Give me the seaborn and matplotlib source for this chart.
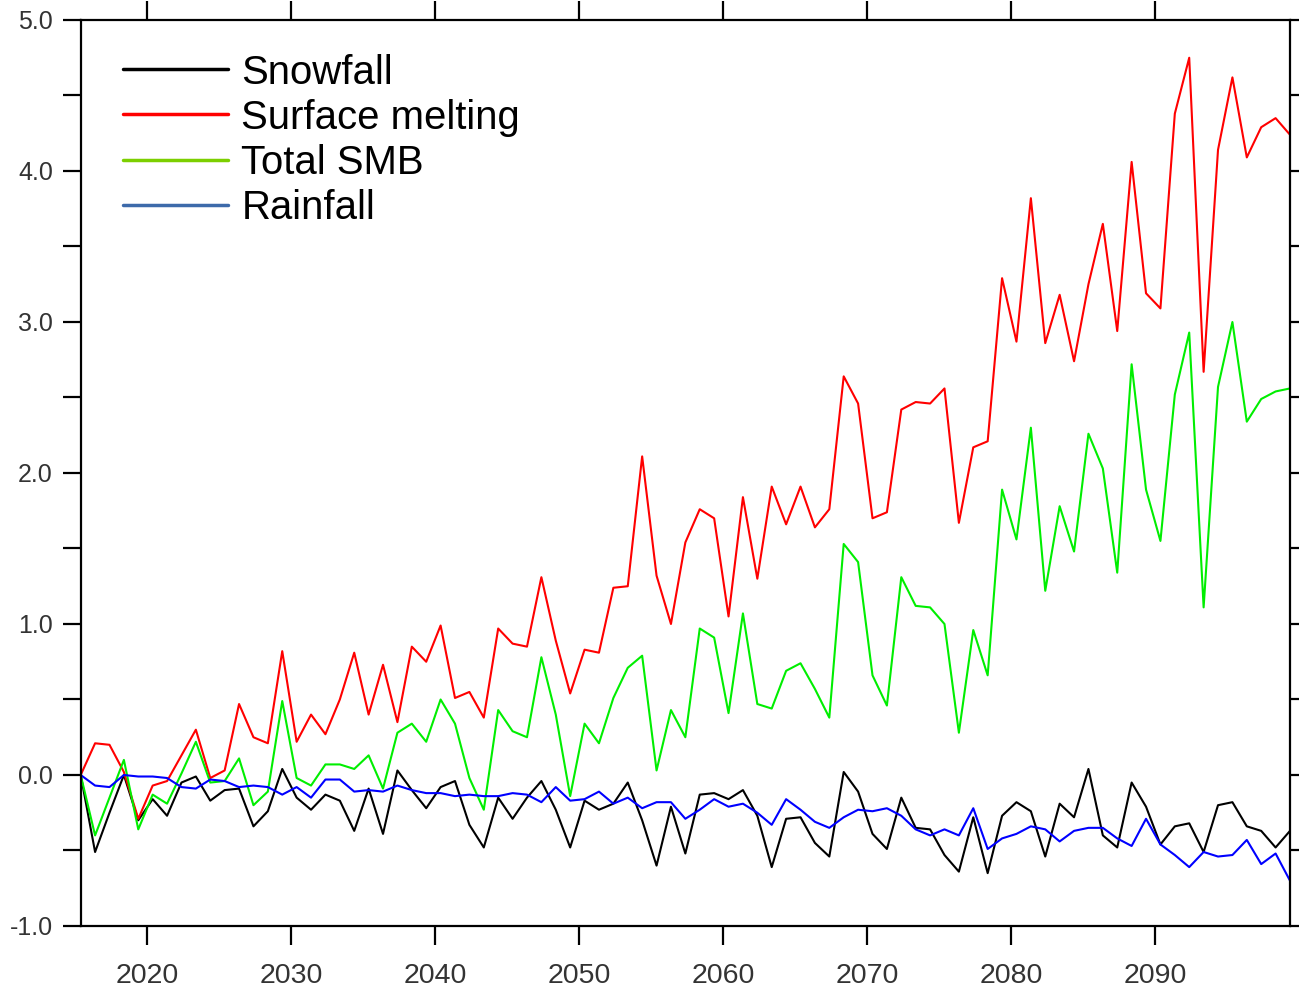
import numpy as np
import pandas as pd
import matplotlib
matplotlib.use("Agg")
import matplotlib.pyplot as plt
from matplotlib.lines import Line2D
from matplotlib.ticker import MultipleLocator, FixedLocator, FuncFormatter
import seaborn as sns

# ---------------- data ----------------
years = np.arange(2015, 2100)          # 85 annual values
time_offset = 0.375                    # samples sit a little into each year

snowfall = [
    0.00, -0.51, -0.25, 0.00, -0.30, -0.16, -0.27, -0.05, -0.01, -0.17, -0.10,
    -0.09, -0.34, -0.24, 0.04, -0.15, -0.23, -0.13, -0.17, -0.37, -0.09, -0.39,
    0.03, -0.10, -0.22, -0.08, -0.04, -0.33, -0.48, -0.15, -0.29, -0.15, -0.04,
    -0.23, -0.48, -0.17, -0.23, -0.19, -0.05, -0.30, -0.60, -0.21, -0.52, -0.13,
    -0.12, -0.16, -0.10, -0.27, -0.61, -0.29, -0.28, -0.45, -0.54, 0.02, -0.11,
    -0.39, -0.49, -0.15, -0.35, -0.36, -0.53, -0.64, -0.28, -0.65, -0.27,
    -0.18, -0.24, -0.54, -0.19, -0.28, 0.04, -0.40, -0.48, -0.05, -0.21, -0.46,
    -0.34, -0.32, -0.51, -0.20, -0.18, -0.34, -0.37, -0.48, -0.37,
]
surface_melting = [
    0.00, 0.21, 0.20, 0.02, -0.29, -0.07, -0.04, 0.13, 0.30, -0.02, 0.03,
    0.47, 0.25, 0.21, 0.82, 0.22, 0.40, 0.27, 0.50, 0.81, 0.40, 0.73,
    0.35, 0.85, 0.75, 0.99, 0.51, 0.55, 0.38, 0.97, 0.87, 0.85, 1.31,
    0.89, 0.54, 0.83, 0.81, 1.24, 1.25, 2.11, 1.32, 1.00, 1.54, 1.76,
    1.70, 1.05, 1.84, 1.30, 1.91, 1.66, 1.91, 1.64, 1.76, 2.64, 2.46,
    1.70, 1.74, 2.42, 2.47, 2.46, 2.56, 1.67, 2.17, 2.21, 3.29,
    2.87, 3.82, 2.86, 3.18, 2.74, 3.25, 3.65, 2.94, 4.06, 3.19, 3.09,
    4.38, 4.75, 2.67, 4.14, 4.62, 4.09, 4.29, 4.35, 4.24,
]
total_smb = [
    0.00, -0.40, -0.15, 0.10, -0.36, -0.13, -0.19, 0.01, 0.22, -0.05, -0.04,
    0.11, -0.20, -0.11, 0.49, -0.02, -0.07, 0.07, 0.07, 0.04, 0.13, -0.09,
    0.28, 0.34, 0.22, 0.50, 0.34, -0.02, -0.23, 0.43, 0.29, 0.25, 0.78,
    0.40, -0.14, 0.34, 0.21, 0.51, 0.71, 0.79, 0.03, 0.43, 0.25, 0.97,
    0.91, 0.41, 1.07, 0.47, 0.44, 0.69, 0.74, 0.57, 0.38, 1.53, 1.41,
    0.66, 0.46, 1.31, 1.12, 1.11, 1.00, 0.28, 0.96, 0.66, 1.89,
    1.56, 2.30, 1.22, 1.78, 1.48, 2.26, 2.03, 1.34, 2.72, 1.89, 1.55,
    2.52, 2.93, 1.11, 2.57, 3.00, 2.34, 2.49, 2.54, 2.56,
]
rainfall = [
    0.00, -0.07, -0.08, 0.00, -0.01, -0.01, -0.02, -0.08, -0.09, -0.03, -0.04,
    -0.08, -0.07, -0.08, -0.13, -0.08, -0.15, -0.03, -0.03, -0.11, -0.10, -0.11,
    -0.07, -0.10, -0.12, -0.12, -0.14, -0.13, -0.14, -0.14, -0.12, -0.13, -0.18,
    -0.08, -0.17, -0.16, -0.11, -0.19, -0.15, -0.22, -0.18, -0.18, -0.29, -0.23,
    -0.16, -0.21, -0.19, -0.25, -0.33, -0.16, -0.23, -0.31, -0.35, -0.28, -0.23,
    -0.24, -0.22, -0.27, -0.36, -0.40, -0.36, -0.40, -0.22, -0.49, -0.42,
    -0.39, -0.34, -0.36, -0.44, -0.37, -0.35, -0.35, -0.42, -0.47, -0.29, -0.46,
    -0.53, -0.61, -0.51, -0.54, -0.53, -0.43, -0.59, -0.52, -0.70,
]

series_names = ["Snowfall", "Surface melting", "Total SMB", "Rainfall"]
x_ticks = [2020, 2030, 2040, 2050, 2060, 2070, 2080, 2090]
y_label_ticks = [-1.0, 0.0, 1.0, 2.0, 3.0, 4.0, 5.0]

# ---------------- styling ----------------
line_colors = ["#000000", "#ff0000", "#00ee00", "#0000ff"]
legend_colors = ["#000000", "#ff0000", "#7ccf00", "#3d6aaa"]

df = pd.DataFrame({
    "time": years + time_offset,
    "Snowfall": snowfall,
    "Surface melting": surface_melting,
    "Total SMB": total_smb,
    "Rainfall": rainfall,
}).melt(id_vars="time", var_name="series", value_name="value")

sns.set_theme(style="white")
plt.rcParams["font.family"] = ["Liberation Sans", "DejaVu Sans"]

fig = plt.figure(figsize=(12.99, 9.90), dpi=100)
ax = fig.add_axes([0.06212, 0.06465, 0.93095, 0.91515])

sns.lineplot(data=df, x="time", y="value", hue="series",
             hue_order=series_names,
             palette=dict(zip(series_names, line_colors)),
             linewidth=1.5, estimator=None, sort=False,
             legend=False, ax=ax)

ax.set_xlim(years[0] + time_offset, years[-1] + time_offset)
ax.set_ylim(-1.0, 5.0)
ax.set_xlabel("")
ax.set_ylabel("")

ax.xaxis.set_major_locator(FixedLocator(x_ticks))
ax.xaxis.set_major_formatter(FuncFormatter(lambda v, p: f"{int(round(v))}"))
ax.yaxis.set_major_locator(FixedLocator(y_label_ticks))
ax.yaxis.set_major_formatter(FuncFormatter(lambda v, p: f"{v:.1f}"))
ax.yaxis.set_minor_locator(MultipleLocator(0.5))

for s in ax.spines.values():
    s.set_color("black")
    s.set_linewidth(1.6)
    s.set_visible(True)

ax.tick_params(axis="both", which="both", direction="out", color="black",
               width=1.6, top=True, right=True, bottom=True, left=True)
ax.tick_params(axis="x", which="major", length=14, labelsize=20.5,
               labelcolor="#333333", pad=13)
ax.tick_params(axis="y", which="both", length=13, labelsize=18,
               labelcolor="#333333", pad=7)

handles = [Line2D([], [], color=c, lw=2.5) for c in legend_colors]
ax.legend(handles, series_names, loc="upper left",
          bbox_to_anchor=(0.035, 0.963), frameon=False, fontsize=28.9,
          labelcolor="black",
          handlelength=2.62, handletextpad=0.33, labelspacing=0.175,
          borderpad=0, borderaxespad=0)

fig.savefig("out.png", dpi=100)
